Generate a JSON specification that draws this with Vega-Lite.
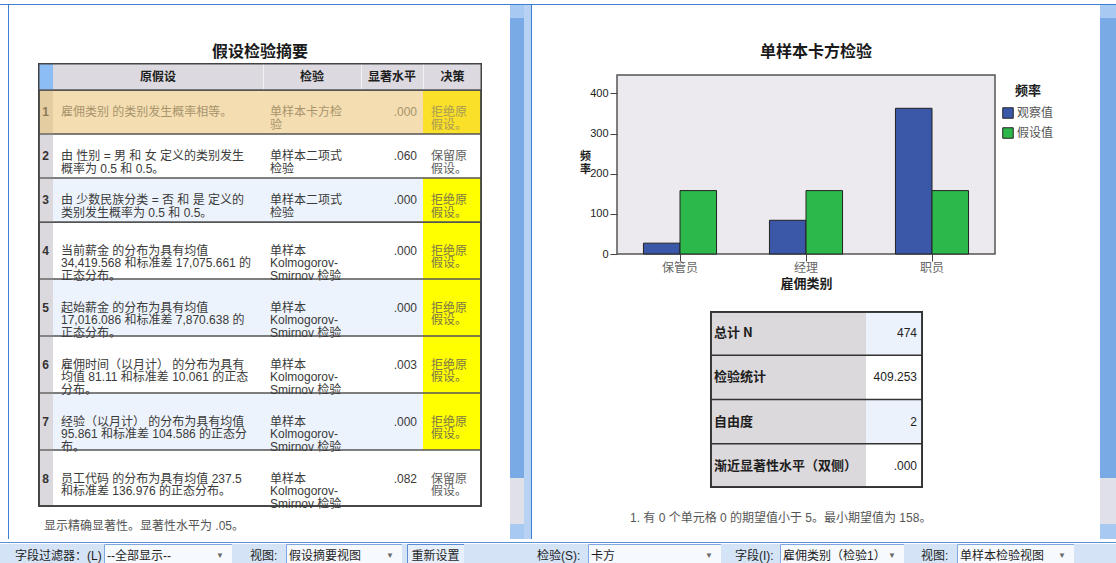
{
"$schema": "https://vega.github.io/schema/vega-lite/v6.json",
"padding": 0,
"background": "#FFFFFF",
"spacing": 0,
"config": {
 "font": "Liberation Sans, Noto Sans CJK SC, DejaVu Sans, sans-serif",
 "view": {"stroke": null},
 "concat": {"spacing": 0},
 "text": {"fontSize": 12, "baseline": "middle", "lineHeight": 12.5}
},
"datasets": {
 "hyp": [
  {"no": 1, "g": "A", "h": ["雇佣类别 的类别发生概率相等。"], "t": ["单样本卡方检", "验"], "s": ".000", "d": ["拒绝原", "假设。"], "rej": true},
  {"no": 2, "g": "A", "h": ["由 性别 = 男 和 女 定义的类别发生", "概率为 0.5 和 0.5。"], "t": ["单样本二项式", "检验"], "s": ".060", "d": ["保留原", "假设。"], "rej": false},
  {"no": 3, "g": "A", "h": ["由 少数民族分类 = 否 和 是 定义的", "类别发生概率为 0.5 和 0.5。"], "t": ["单样本二项式", "检验"], "s": ".000", "d": ["拒绝原", "假设。"], "rej": true},
  {"no": 4, "g": "B", "h": ["当前薪金 的分布为具有均值", "34,419.568 和标准差 17,075.661 的", "正态分布。"], "t": ["单样本", "Kolmogorov-", "Smirnov 检验"], "s": ".000", "d": ["拒绝原", "假设。"], "rej": true},
  {"no": 5, "g": "B", "h": ["起始薪金 的分布为具有均值", "17,016.086 和标准差 7,870.638 的", "正态分布。"], "t": ["单样本", "Kolmogorov-", "Smirnov 检验"], "s": ".000", "d": ["拒绝原", "假设。"], "rej": true},
  {"no": 6, "g": "B", "h": ["雇佣时间（以月计） 的分布为具有", "均值 81.11 和标准差 10.061 的正态", "分布。"], "t": ["单样本", "Kolmogorov-", "Smirnov 检验"], "s": ".003", "d": ["拒绝原", "假设。"], "rej": true},
  {"no": 7, "g": "B", "h": ["经验（以月计） 的分布为具有均值", "95.861 和标准差 104.586 的正态分", "布。"], "t": ["单样本", "Kolmogorov-", "Smirnov 检验"], "s": ".000", "d": ["拒绝原", "假设。"], "rej": true},
  {"no": 8, "g": "B", "h": ["员工代码 的分布为具有均值 237.5", "和标准差 136.976 的正态分布。"], "t": ["单样本", "Kolmogorov-", "Smirnov 检验"], "s": ".082", "d": ["保留原", "假设。"], "rej": false}
 ],
 "freq": [
  {"cat": "保管员", "series": "观察值", "n": 27},
  {"cat": "保管员", "series": "假设值", "n": 158},
  {"cat": "经理", "series": "观察值", "n": 84},
  {"cat": "经理", "series": "假设值", "n": 158},
  {"cat": "职员", "series": "观察值", "n": 363},
  {"cat": "职员", "series": "假设值", "n": 158}
 ],
 "stats": [
  {"k": 1, "label": "总计 N", "v": "474"},
  {"k": 2, "label": "检验统计", "v": "409.253"},
  {"k": 3, "label": "自由度", "v": "2"},
  {"k": 4, "label": "渐近显著性水平（双侧）", "v": ".000"}
 ]
},
"vconcat": [
 {"width": 1116, "height": 4, "mark": "text", "encoding": {"text": {"value": ""}}},
 {"width": 1116, "height": 1, "view": {"fill": "#3D7FD6"}, "mark": "text", "encoding": {"text": {"value": ""}}},
 {"spacing": 0, "hconcat": [
  {"width": 8, "height": 534, "mark": "text", "encoding": {"text": {"value": ""}}},
  {"width": 1, "height": 534, "view": {"fill": "#3D7FD6"}, "mark": "text", "encoding": {"text": {"value": ""}}},
  {"spacing": 0, "hconcat": [
   {"width": 29, "height": 534, "mark": "text", "encoding": {"text": {"value": ""}}},
   {"spacing": 0, "vconcat": [
    {"width": 444, "height": 36, "mark": "text", "encoding": {"text": {"value": ""}}},
    {"width": 444, "height": 22, "data": {"values": [{"t": "假设检验摘要"}]}, "mark": {"type": "text", "fontSize": 16, "fontWeight": "bold", "color": "#1A1A1A", "font": "Noto Sans CJK SC"}, "encoding": {"text": {"field": "t", "type": "nominal"}}},
    {"bounds": "flush", "spacing": 0, "hconcat": [
     {"width": 15, "height": 27, "view": {"fill": "#8DBDF5"}, "data": {"values": [{"t": ""}]}, "layer": [
      {"mark": {"type": "rule", "color": "#444444", "strokeWidth": 3, "clip": true}, "encoding": {"y": {"value": 0}}},
      {"mark": {"type": "rule", "color": "#555555", "strokeWidth": 1.3, "clip": true}, "encoding": {"y": {"value": "height"}}},
      {"mark": {"type": "rule", "color": "#444444", "strokeWidth": 3, "clip": true}, "encoding": {"x": {"value": 0}, "y": {"value": 0}, "y2": {"value": "height"}}}
     ]},
     {"width": 210, "height": 27, "view": {"fill": "#DCDAE0"}, "data": {"values": [{"t": "原假设"}]}, "layer": [
      {"mark": {"type": "text", "fontWeight": "bold", "color": "#1E1E1E", "font": "Noto Sans CJK SC"}, "encoding": {"text": {"field": "t", "type": "nominal"}}},
      {"mark": {"type": "rule", "color": "#444444", "strokeWidth": 3, "clip": true}, "encoding": {"y": {"value": 0}}},
      {"mark": {"type": "rule", "color": "#555555", "strokeWidth": 1.3, "clip": true}, "encoding": {"y": {"value": "height"}}}
     ]},
     {"width": 98, "height": 27, "view": {"fill": "#DCDAE0"}, "data": {"values": [{"t": "检验"}]}, "layer": [
      {"mark": {"type": "text", "fontWeight": "bold", "color": "#1E1E1E", "font": "Noto Sans CJK SC"}, "encoding": {"text": {"field": "t", "type": "nominal"}}},
      {"mark": {"type": "rule", "color": "#F2F2F5", "strokeWidth": 2, "clip": true}, "encoding": {"x": {"value": 0}, "y": {"value": 0}, "y2": {"value": "height"}}},
      {"mark": {"type": "rule", "color": "#444444", "strokeWidth": 3, "clip": true}, "encoding": {"y": {"value": 0}}},
      {"mark": {"type": "rule", "color": "#555555", "strokeWidth": 1.3, "clip": true}, "encoding": {"y": {"value": "height"}}}
     ]},
     {"width": 62, "height": 27, "view": {"fill": "#DCDAE0"}, "data": {"values": [{"t": "显著水平"}]}, "layer": [
      {"mark": {"type": "text", "fontWeight": "bold", "color": "#1E1E1E", "font": "Noto Sans CJK SC"}, "encoding": {"text": {"field": "t", "type": "nominal"}}},
      {"mark": {"type": "rule", "color": "#F2F2F5", "strokeWidth": 2, "clip": true}, "encoding": {"x": {"value": 0}, "y": {"value": 0}, "y2": {"value": "height"}}},
      {"mark": {"type": "rule", "color": "#444444", "strokeWidth": 3, "clip": true}, "encoding": {"y": {"value": 0}}},
      {"mark": {"type": "rule", "color": "#555555", "strokeWidth": 1.3, "clip": true}, "encoding": {"y": {"value": "height"}}}
     ]},
     {"width": 59, "height": 27, "view": {"fill": "#DCDAE0"}, "data": {"values": [{"t": "决策"}]}, "layer": [
      {"mark": {"type": "text", "fontWeight": "bold", "color": "#1E1E1E", "font": "Noto Sans CJK SC"}, "encoding": {"text": {"field": "t", "type": "nominal"}}},
      {"mark": {"type": "rule", "color": "#F2F2F5", "strokeWidth": 2, "clip": true}, "encoding": {"x": {"value": 0}, "y": {"value": 0}, "y2": {"value": "height"}}},
      {"mark": {"type": "rule", "color": "#444444", "strokeWidth": 3, "clip": true}, "encoding": {"y": {"value": 0}}},
      {"mark": {"type": "rule", "color": "#555555", "strokeWidth": 1.3, "clip": true}, "encoding": {"y": {"value": "height"}}},
      {"mark": {"type": "rule", "color": "#444444", "strokeWidth": 3, "clip": true}, "encoding": {"x": {"value": "width"}, "y": {"value": 0}, "y2": {"value": "height"}}}
     ]}
    ]},
    {"bounds": "flush", "spacing": 0, "hconcat": [
     {"width": 15, "height": 132, "data": {"name": "hyp"}, "transform": [{"filter": "datum.g == 'A'"}],
      "encoding": {"y": {"field": "no", "type": "ordinal", "axis": null, "scale": {"paddingInner": 0, "paddingOuter": 0}}},
      "layer": [
       {"mark": "rect", "encoding": {"fill": {"condition": {"test": "datum.no == 1", "value": "#E4CDA0"}, "value": "#DCD9DE"}}},
       {"mark": {"type": "rule", "color": "#555555", "strokeWidth": 1.3, "clip": true}, "encoding": {"y": {"field": "no", "type": "ordinal", "bandPosition": 1, "axis": null}}},
       {"mark": {"type": "rule", "color": "#555555", "strokeWidth": 1.3, "clip": true}, "encoding": {"y": {"value": 0}}},
       {"mark": {"type": "rule", "color": "#444444", "strokeWidth": 3, "clip": true}, "encoding": {"x": {"value": 0}, "y": {"value": 0}, "y2": {"value": "height"}}},
       {"mark": {"type": "text", "fontWeight": "bold"}, "encoding": {"text": {"field": "no", "type": "nominal"}, "color": {"condition": {"test": "datum.no == 1", "value": "#8C7B58"}, "value": "#333333"}}}
      ]},
     {"width": 210, "height": 132, "data": {"name": "hyp"}, "transform": [{"filter": "datum.g == 'A'"}],
      "encoding": {"y": {"field": "no", "type": "ordinal", "axis": null, "scale": {"paddingInner": 0, "paddingOuter": 0}}},
      "layer": [
       {"mark": "rect", "encoding": {"fill": {"condition": [{"test": "datum.no == 1", "value": "#F3DDB1"}, {"test": "datum.no % 2 == 1", "value": "#EDF3FC"}], "value": "#FFFFFF"}}},
       {"mark": {"type": "rule", "color": "#555555", "strokeWidth": 1.3, "clip": true}, "encoding": {"y": {"field": "no", "type": "ordinal", "bandPosition": 1, "axis": null}}},
       {"mark": {"type": "rule", "color": "#555555", "strokeWidth": 1.3, "clip": true}, "encoding": {"y": {"value": 0}}},
       {"mark": {"type": "text", "align": "left", "dx": 8}, "encoding": {"x": {"value": 0}, "text": {"field": "h", "type": "nominal"}, "color": {"condition": {"test": "datum.no == 1", "value": "#A8946C"}, "value": "#3A3A3A"}}}
      ]},
     {"width": 98, "height": 132, "data": {"name": "hyp"}, "transform": [{"filter": "datum.g == 'A'"}],
      "encoding": {"y": {"field": "no", "type": "ordinal", "axis": null, "scale": {"paddingInner": 0, "paddingOuter": 0}}},
      "layer": [
       {"mark": "rect", "encoding": {"fill": {"condition": [{"test": "datum.no == 1", "value": "#F3DDB1"}, {"test": "datum.no % 2 == 1", "value": "#EDF3FC"}], "value": "#FFFFFF"}}},
       {"mark": {"type": "rule", "color": "#555555", "strokeWidth": 1.3, "clip": true}, "encoding": {"y": {"field": "no", "type": "ordinal", "bandPosition": 1, "axis": null}}},
       {"mark": {"type": "rule", "color": "#555555", "strokeWidth": 1.3, "clip": true}, "encoding": {"y": {"value": 0}}},
       {"mark": {"type": "text", "align": "left", "dx": 7}, "encoding": {"x": {"value": 0}, "text": {"field": "t", "type": "nominal"}, "color": {"condition": {"test": "datum.no == 1", "value": "#A8946C"}, "value": "#3A3A3A"}}}
      ]},
     {"width": 62, "height": 132, "data": {"name": "hyp"}, "transform": [{"filter": "datum.g == 'A'"}],
      "encoding": {"y": {"field": "no", "type": "ordinal", "axis": null, "scale": {"paddingInner": 0, "paddingOuter": 0}}},
      "layer": [
       {"mark": "rect", "encoding": {"fill": {"condition": [{"test": "datum.no == 1", "value": "#F3DDB1"}, {"test": "datum.no % 2 == 1", "value": "#EDF3FC"}], "value": "#FFFFFF"}}},
       {"mark": {"type": "rule", "color": "#555555", "strokeWidth": 1.3, "clip": true}, "encoding": {"y": {"field": "no", "type": "ordinal", "bandPosition": 1, "axis": null}}},
       {"mark": {"type": "rule", "color": "#555555", "strokeWidth": 1.3, "clip": true}, "encoding": {"y": {"value": 0}}},
       {"mark": {"type": "text", "align": "right", "dx": -6}, "encoding": {"x": {"value": "width"}, "text": {"field": "s", "type": "nominal"}, "color": {"condition": {"test": "datum.no == 1", "value": "#A8946C"}, "value": "#3A3A3A"}}}
      ]},
     {"width": 59, "height": 132, "data": {"name": "hyp"}, "transform": [{"filter": "datum.g == 'A'"}],
      "encoding": {"y": {"field": "no", "type": "ordinal", "axis": null, "scale": {"paddingInner": 0, "paddingOuter": 0}}},
      "layer": [
       {"mark": "rect", "encoding": {"fill": {"condition": [{"test": "datum.rej && datum.no == 1", "value": "#FAE028"}, {"test": "datum.rej", "value": "#FFFF00"}], "value": "#FFFFFF"}}},
       {"mark": {"type": "rule", "color": "#555555", "strokeWidth": 1.3, "clip": true}, "encoding": {"y": {"field": "no", "type": "ordinal", "bandPosition": 1, "axis": null}}},
       {"mark": {"type": "rule", "color": "#555555", "strokeWidth": 1.3, "clip": true}, "encoding": {"y": {"value": 0}}},
       {"mark": {"type": "rule", "color": "#444444", "strokeWidth": 3, "clip": true}, "encoding": {"x": {"value": "width"}, "y": {"value": 0}, "y2": {"value": "height"}}},
       {"mark": {"type": "text", "align": "left", "dx": 8}, "encoding": {"x": {"value": 0}, "text": {"field": "d", "type": "nominal"}, "color": {"condition": [{"test": "datum.no == 1", "value": "#A89A58"}, {"test": "datum.rej", "value": "#7C7648"}], "value": "#5E5E5E"}}}
      ]}
    ]},
    {"bounds": "flush", "spacing": 0, "hconcat": [
     {"width": 15, "height": 285, "data": {"name": "hyp"}, "transform": [{"filter": "datum.g == 'B'"}],
      "encoding": {"y": {"field": "no", "type": "ordinal", "axis": null, "scale": {"paddingInner": 0, "paddingOuter": 0}}},
      "layer": [
       {"mark": "rect", "encoding": {"fill": {"condition": {"test": "datum.no == 1", "value": "#E4CDA0"}, "value": "#DCD9DE"}}},
       {"mark": {"type": "rule", "color": "#555555", "strokeWidth": 1.3, "clip": true}, "encoding": {"y": {"field": "no", "type": "ordinal", "bandPosition": 1, "axis": null}}},
       {"mark": {"type": "rule", "color": "#555555", "strokeWidth": 1.3, "clip": true}, "encoding": {"y": {"value": 0}}},
       {"mark": {"type": "rule", "color": "#444444", "strokeWidth": 3, "clip": true}, "encoding": {"y": {"value": "height"}}},
       {"mark": {"type": "rule", "color": "#444444", "strokeWidth": 3, "clip": true}, "encoding": {"x": {"value": 0}, "y": {"value": 0}, "y2": {"value": "height"}}},
       {"mark": {"type": "text", "fontWeight": "bold"}, "encoding": {"text": {"field": "no", "type": "nominal"}, "color": {"condition": {"test": "datum.no == 1", "value": "#8C7B58"}, "value": "#333333"}}}
      ]},
     {"width": 210, "height": 285, "data": {"name": "hyp"}, "transform": [{"filter": "datum.g == 'B'"}],
      "encoding": {"y": {"field": "no", "type": "ordinal", "axis": null, "scale": {"paddingInner": 0, "paddingOuter": 0}}},
      "layer": [
       {"mark": "rect", "encoding": {"fill": {"condition": [{"test": "datum.no == 1", "value": "#F3DDB1"}, {"test": "datum.no % 2 == 1", "value": "#EDF3FC"}], "value": "#FFFFFF"}}},
       {"mark": {"type": "rule", "color": "#555555", "strokeWidth": 1.3, "clip": true}, "encoding": {"y": {"field": "no", "type": "ordinal", "bandPosition": 1, "axis": null}}},
       {"mark": {"type": "rule", "color": "#555555", "strokeWidth": 1.3, "clip": true}, "encoding": {"y": {"value": 0}}},
       {"mark": {"type": "rule", "color": "#444444", "strokeWidth": 3, "clip": true}, "encoding": {"y": {"value": "height"}}},
       {"mark": {"type": "text", "align": "left", "dx": 8}, "encoding": {"x": {"value": 0}, "text": {"field": "h", "type": "nominal"}, "color": {"condition": {"test": "datum.no == 1", "value": "#A8946C"}, "value": "#3A3A3A"}}}
      ]},
     {"width": 98, "height": 285, "data": {"name": "hyp"}, "transform": [{"filter": "datum.g == 'B'"}],
      "encoding": {"y": {"field": "no", "type": "ordinal", "axis": null, "scale": {"paddingInner": 0, "paddingOuter": 0}}},
      "layer": [
       {"mark": "rect", "encoding": {"fill": {"condition": [{"test": "datum.no == 1", "value": "#F3DDB1"}, {"test": "datum.no % 2 == 1", "value": "#EDF3FC"}], "value": "#FFFFFF"}}},
       {"mark": {"type": "rule", "color": "#555555", "strokeWidth": 1.3, "clip": true}, "encoding": {"y": {"field": "no", "type": "ordinal", "bandPosition": 1, "axis": null}}},
       {"mark": {"type": "rule", "color": "#555555", "strokeWidth": 1.3, "clip": true}, "encoding": {"y": {"value": 0}}},
       {"mark": {"type": "rule", "color": "#444444", "strokeWidth": 3, "clip": true}, "encoding": {"y": {"value": "height"}}},
       {"mark": {"type": "text", "align": "left", "dx": 7}, "encoding": {"x": {"value": 0}, "text": {"field": "t", "type": "nominal"}, "color": {"condition": {"test": "datum.no == 1", "value": "#A8946C"}, "value": "#3A3A3A"}}}
      ]},
     {"width": 62, "height": 285, "data": {"name": "hyp"}, "transform": [{"filter": "datum.g == 'B'"}],
      "encoding": {"y": {"field": "no", "type": "ordinal", "axis": null, "scale": {"paddingInner": 0, "paddingOuter": 0}}},
      "layer": [
       {"mark": "rect", "encoding": {"fill": {"condition": [{"test": "datum.no == 1", "value": "#F3DDB1"}, {"test": "datum.no % 2 == 1", "value": "#EDF3FC"}], "value": "#FFFFFF"}}},
       {"mark": {"type": "rule", "color": "#555555", "strokeWidth": 1.3, "clip": true}, "encoding": {"y": {"field": "no", "type": "ordinal", "bandPosition": 1, "axis": null}}},
       {"mark": {"type": "rule", "color": "#555555", "strokeWidth": 1.3, "clip": true}, "encoding": {"y": {"value": 0}}},
       {"mark": {"type": "rule", "color": "#444444", "strokeWidth": 3, "clip": true}, "encoding": {"y": {"value": "height"}}},
       {"mark": {"type": "text", "align": "right", "dx": -6}, "encoding": {"x": {"value": "width"}, "text": {"field": "s", "type": "nominal"}, "color": {"condition": {"test": "datum.no == 1", "value": "#A8946C"}, "value": "#3A3A3A"}}}
      ]},
     {"width": 59, "height": 285, "data": {"name": "hyp"}, "transform": [{"filter": "datum.g == 'B'"}],
      "encoding": {"y": {"field": "no", "type": "ordinal", "axis": null, "scale": {"paddingInner": 0, "paddingOuter": 0}}},
      "layer": [
       {"mark": "rect", "encoding": {"fill": {"condition": [{"test": "datum.rej && datum.no == 1", "value": "#FAE028"}, {"test": "datum.rej", "value": "#FFFF00"}], "value": "#FFFFFF"}}},
       {"mark": {"type": "rule", "color": "#555555", "strokeWidth": 1.3, "clip": true}, "encoding": {"y": {"field": "no", "type": "ordinal", "bandPosition": 1, "axis": null}}},
       {"mark": {"type": "rule", "color": "#555555", "strokeWidth": 1.3, "clip": true}, "encoding": {"y": {"value": 0}}},
       {"mark": {"type": "rule", "color": "#444444", "strokeWidth": 3, "clip": true}, "encoding": {"y": {"value": "height"}}},
       {"mark": {"type": "rule", "color": "#444444", "strokeWidth": 3, "clip": true}, "encoding": {"x": {"value": "width"}, "y": {"value": 0}, "y2": {"value": "height"}}},
       {"mark": {"type": "text", "align": "left", "dx": 8}, "encoding": {"x": {"value": 0}, "text": {"field": "d", "type": "nominal"}, "color": {"condition": [{"test": "datum.no == 1", "value": "#A89A58"}, {"test": "datum.rej", "value": "#7C7648"}], "value": "#5E5E5E"}}}
      ]}
    ]},
    {"width": 444, "height": 32, "data": {"values": [{"t": "显示精确显著性。显著性水平为 .05。"}]}, "mark": {"type": "text", "align": "left", "dx": 6, "color": "#555555"}, "encoding": {"x": {"value": 0}, "text": {"field": "t", "type": "nominal"}}}
   ]},
   {"width": 28, "height": 534, "mark": "text", "encoding": {"text": {"value": ""}}}
  ]},
  {"bounds": "flush", "spacing": 0, "vconcat": [
   {"width": 14, "height": 13, "view": {"fill": "#A8C9F1"}, "mark": {"type": "text", "fontSize": 7, "color": "#4B5B7A"}, "encoding": {"text": {"value": "▲"}}},
   {"width": 14, "height": 460, "view": {"fill": "#7AAAE6"}, "mark": "text", "encoding": {"text": {"value": ""}}},
   {"width": 14, "height": 46, "view": {"fill": "#E0E0E8"}, "mark": "text", "encoding": {"text": {"value": ""}}},
   {"width": 14, "height": 15, "view": {"fill": "#A8C9F1"}, "mark": {"type": "text", "fontSize": 7, "color": "#4B5B7A"}, "encoding": {"text": {"value": "▼"}}}
  ]},
  {"width": 7, "height": 534, "view": {"fill": "#B7D2F2"}, "mark": {"type": "text", "fontSize": 11, "color": "#2F62B0"}, "encoding": {"text": {"value": "⋮"}}},
  {"width": 1, "height": 534, "view": {"fill": "#3D7FD6"}, "mark": "text", "encoding": {"text": {"value": ""}}},
  {"spacing": 0, "vconcat": [
   {"width": 568, "height": 36, "mark": "text", "encoding": {"text": {"value": ""}}},
   {"width": 568, "height": 22, "data": {"values": [{"t": "单样本卡方检验"}]}, "mark": {"type": "text", "fontSize": 16, "fontWeight": "bold", "color": "#1A1A1A", "font": "Noto Sans CJK SC"}, "encoding": {"text": {"field": "t", "type": "nominal"}}},
   {"width": 568, "height": 11, "mark": "text", "encoding": {"text": {"value": ""}}},
   {"bounds": "flush", "spacing": 0,
    "resolve": {"scale": {"color": "independent"}, "legend": {"color": "independent"}},
    "hconcat": [
    {"width": 85, "height": 179, "mark": "text", "encoding": {"text": {"value": ""}}},
    {"width": 378, "height": 179, "data": {"name": "freq"},
     "view": {"fill": "#ECE9EF", "stroke": "#555555", "strokeWidth": 1.5},
     "mark": {"type": "bar", "stroke": "#222222", "strokeWidth": 1},
     "encoding": {
      "x": {"field": "cat", "type": "nominal", "sort": ["保管员", "经理", "职员"], "scale": {"paddingInner": 0.42, "paddingOuter": 0.21},
            "axis": {"title": "雇佣类别", "labelAngle": 0, "domain": false, "tickSize": 7, "tickColor": "#444444", "labelFont": "Noto Sans CJK SC", "labelFontSize": 12, "labelColor": "#666666", "labelPadding": 1, "titleFont": "Noto Sans CJK SC", "titleFontSize": 13, "titleFontWeight": "bold", "titleColor": "#1E1E1E", "titlePadding": 4}},
      "xOffset": {"field": "series", "type": "nominal", "sort": ["观察值", "假设值"]},
      "y": {"field": "n", "type": "quantitative", "scale": {"domain": [0, 446], "nice": false},
            "axis": {"values": [0, 100, 200, 300, 400], "grid": false, "domain": false, "tickSize": 7, "tickColor": "#444444", "labelFontSize": 11, "labelColor": "#222222", "labelPadding": 2, "title": ["频", "率"], "titleAngle": 0, "titleAlign": "center", "titleBaseline": "middle", "titleX": -32, "titleY": 81, "titleFont": "Noto Sans CJK SC", "titleFontSize": 11, "titleFontWeight": "bold", "titleColor": "#1E1E1E", "titleLineHeight": 13}},
      "color": {"field": "series", "type": "nominal", "sort": ["观察值", "假设值"], "scale": {"domain": ["观察值", "假设值"], "range": ["#3B57A7", "#2DB84B"]},
            "legend": {"title": "频率", "orient": "right", "offset": -3, "padding": 10, "titleAnchor": "middle", "titleFont": "Noto Sans CJK SC", "titleFontSize": 13, "titleFontWeight": "bold", "titleColor": "#1E1E1E", "titlePadding": 9, "labelFont": "Noto Sans CJK SC", "labelFontSize": 12, "labelColor": "#555555", "labelOffset": 3, "symbolType": "square", "symbolSize": 110, "symbolStrokeColor": "#222222", "symbolStrokeWidth": 1, "symbolOpacity": 1, "rowPadding": 4}}
     }}
   ]},
   {"width": 568, "height": 20, "mark": "text", "encoding": {"text": {"value": ""}}},
   {"bounds": "flush", "spacing": 0, "hconcat": [
    {"width": 178, "height": 177, "mark": "text", "encoding": {"text": {"value": ""}}},
    {"width": 156, "height": 177, "data": {"name": "stats"},
     "encoding": {"y": {"field": "k", "type": "ordinal", "axis": null, "scale": {"paddingInner": 0, "paddingOuter": 0}}},
     "layer": [
      {"mark": {"type": "rect", "color": "#DCD9DC"}},
      {"mark": {"type": "rule", "color": "#333333", "strokeWidth": 1.5, "clip": true}, "encoding": {"y": {"field": "k", "type": "ordinal", "bandPosition": 1, "axis": null}}},
      {"mark": {"type": "rule", "color": "#333333", "strokeWidth": 3, "clip": true}, "encoding": {"y": {"value": 0}}},
      {"mark": {"type": "rule", "color": "#333333", "strokeWidth": 3, "clip": true}, "encoding": {"y": {"value": "height"}}},
      {"mark": {"type": "rule", "color": "#333333", "strokeWidth": 3, "clip": true}, "encoding": {"x": {"value": 0}, "y": {"value": 0}, "y2": {"value": "height"}}},
      {"mark": {"type": "text", "align": "left", "dx": 4, "fontSize": 13, "fontWeight": "bold", "color": "#1E1E1E", "font": "Noto Sans CJK SC"}, "encoding": {"x": {"value": 0}, "text": {"field": "label", "type": "nominal"}}}
     ]},
    {"width": 57, "height": 177, "data": {"name": "stats"},
     "encoding": {"y": {"field": "k", "type": "ordinal", "axis": null, "scale": {"paddingInner": 0, "paddingOuter": 0}}},
     "layer": [
      {"mark": "rect", "encoding": {"fill": {"condition": {"test": "datum.k % 2 == 1", "value": "#EBF2FC"}, "value": "#FFFFFF"}}},
      {"mark": {"type": "rule", "color": "#333333", "strokeWidth": 1.5, "clip": true}, "encoding": {"y": {"field": "k", "type": "ordinal", "bandPosition": 1, "axis": null}}},
      {"mark": {"type": "rule", "color": "#333333", "strokeWidth": 3, "clip": true}, "encoding": {"y": {"value": 0}}},
      {"mark": {"type": "rule", "color": "#333333", "strokeWidth": 3, "clip": true}, "encoding": {"y": {"value": "height"}}},
      {"mark": {"type": "rule", "color": "#333333", "strokeWidth": 3, "clip": true}, "encoding": {"x": {"value": "width"}, "y": {"value": 0}, "y2": {"value": "height"}}},
      {"mark": {"type": "text", "align": "right", "dx": -6, "fontSize": 12, "color": "#1E1E1E"}, "encoding": {"x": {"value": "width"}, "text": {"field": "v", "type": "nominal"}}}
     ]}
   ]},
   {"width": 568, "height": 20, "mark": "text", "encoding": {"text": {"value": ""}}},
   {"bounds": "flush", "spacing": 0, "hconcat": [
    {"width": 98, "height": 20, "mark": "text", "encoding": {"text": {"value": ""}}},
    {"width": 470, "height": 20, "data": {"values": [{"t": "1.  有 0 个单元格 0 的期望值小于 5。最小期望值为 158。"}]}, "mark": {"type": "text", "align": "left", "color": "#555555"}, "encoding": {"x": {"value": 0}, "text": {"field": "t", "type": "nominal"}}}
   ]}
  ]},
  {"bounds": "flush", "spacing": 0, "vconcat": [
   {"width": 16, "height": 13, "view": {"fill": "#A8C9F1"}, "mark": {"type": "text", "fontSize": 7, "color": "#4B5B7A"}, "encoding": {"text": {"value": "▲"}}},
   {"width": 16, "height": 460, "view": {"fill": "#7AAAE6"}, "mark": "text", "encoding": {"text": {"value": ""}}},
   {"width": 16, "height": 46, "view": {"fill": "#E0E0E8"}, "mark": "text", "encoding": {"text": {"value": ""}}},
   {"width": 16, "height": 15, "view": {"fill": "#A8C9F1"}, "mark": {"type": "text", "fontSize": 7, "color": "#4B5B7A"}, "encoding": {"text": {"value": "▼"}}}
  ]}
 ]},
 {"spacing": 0, "vconcat": [
  {"width": 1116, "height": 1, "view": {"fill": "#5E90D6"}, "mark": "text", "encoding": {"text": {"value": ""}}},
  {"bounds": "flush", "spacing": 0, "hconcat": [
   {"width": 14, "height": 23, "view": {"fill": "#D4E3F6"}, "mark": "text", "encoding": {"text": {"value": ""}}},
   {"width": 90, "height": 23, "view": {"fill": "#D4E3F6"}, "data": {"values": [{"t": "字段过滤器：(L)"}]}, "mark": {"type": "text", "align": "left", "dx": 1, "color": "#1E1E1E"}, "encoding": {"x": {"value": 0}, "text": {"field": "t", "type": "nominal"}}},
   {"width": 128, "height": 23, "view": {"fill": "#F6F9FE", "stroke": "#7EA8E0"}, "data": {"values": [{"t": "--全部显示--"}]}, "layer": [
    {"mark": {"type": "text", "align": "left", "dx": 3, "color": "#1E1E1E"}, "encoding": {"x": {"value": 0}, "text": {"field": "t", "type": "nominal"}}},
    {"mark": {"type": "text", "dx": -12, "fontSize": 8, "color": "#6A6A6A"}, "encoding": {"x": {"value": "width"}, "text": {"value": "▼"}}}
   ]},
   {"width": 54, "height": 23, "view": {"fill": "#D4E3F6"}, "data": {"values": [{"t": "视图:"}]}, "mark": {"type": "text", "align": "left", "dx": 18, "color": "#1E1E1E"}, "encoding": {"x": {"value": 0}, "text": {"field": "t", "type": "nominal"}}},
   {"width": 116, "height": 23, "view": {"fill": "#F6F9FE", "stroke": "#7EA8E0"}, "data": {"values": [{"t": "假设摘要视图"}]}, "layer": [
    {"mark": {"type": "text", "align": "left", "dx": 3, "color": "#1E1E1E"}, "encoding": {"x": {"value": 0}, "text": {"field": "t", "type": "nominal"}}},
    {"mark": {"type": "text", "dx": -12, "fontSize": 8, "color": "#6A6A6A"}, "encoding": {"x": {"value": "width"}, "text": {"value": "▼"}}}
   ]},
   {"width": 5, "height": 23, "view": {"fill": "#D4E3F6"}, "mark": "text", "encoding": {"text": {"value": ""}}},
   {"width": 57, "height": 23, "view": {"fill": "#E6EFFB", "stroke": "#5C8ED2"}, "data": {"values": [{"t": "重新设置"}]}, "mark": {"type": "text", "color": "#1E1E1E"}, "encoding": {"text": {"field": "t", "type": "nominal"}}},
   {"width": 67, "height": 23, "view": {"fill": "#D4E3F6"}, "mark": "text", "encoding": {"text": {"value": ""}}},
   {"width": 57, "height": 23, "view": {"fill": "#D4E3F6"}, "data": {"values": [{"t": "检验(S):"}]}, "mark": {"type": "text", "align": "left", "dx": 6, "color": "#1E1E1E"}, "encoding": {"x": {"value": 0}, "text": {"field": "t", "type": "nominal"}}},
   {"width": 133, "height": 23, "view": {"fill": "#F6F9FE", "stroke": "#7EA8E0"}, "data": {"values": [{"t": "卡方"}]}, "layer": [
    {"mark": {"type": "text", "align": "left", "dx": 3, "color": "#1E1E1E"}, "encoding": {"x": {"value": 0}, "text": {"field": "t", "type": "nominal"}}},
    {"mark": {"type": "text", "dx": -12, "fontSize": 8, "color": "#6A6A6A"}, "encoding": {"x": {"value": "width"}, "text": {"value": "▼"}}}
   ]},
   {"width": 59, "height": 23, "view": {"fill": "#D4E3F6"}, "data": {"values": [{"t": "字段(I):"}]}, "mark": {"type": "text", "align": "left", "dx": 14, "color": "#1E1E1E"}, "encoding": {"x": {"value": 0}, "text": {"field": "t", "type": "nominal"}}},
   {"width": 124, "height": 23, "view": {"fill": "#F6F9FE", "stroke": "#7EA8E0"}, "data": {"values": [{"t": "雇佣类别（检验1）"}]}, "layer": [
    {"mark": {"type": "text", "align": "left", "dx": 3, "color": "#1E1E1E"}, "encoding": {"x": {"value": 0}, "text": {"field": "t", "type": "nominal"}}},
    {"mark": {"type": "text", "dx": -12, "fontSize": 8, "color": "#6A6A6A"}, "encoding": {"x": {"value": "width"}, "text": {"value": "▼"}}}
   ]},
   {"width": 53, "height": 23, "view": {"fill": "#D4E3F6"}, "data": {"values": [{"t": "视图:"}]}, "mark": {"type": "text", "align": "left", "dx": 17, "color": "#1E1E1E"}, "encoding": {"x": {"value": 0}, "text": {"field": "t", "type": "nominal"}}},
   {"width": 117, "height": 23, "view": {"fill": "#F6F9FE", "stroke": "#7EA8E0"}, "data": {"values": [{"t": "单样本检验视图"}]}, "layer": [
    {"mark": {"type": "text", "align": "left", "dx": 3, "color": "#1E1E1E"}, "encoding": {"x": {"value": 0}, "text": {"field": "t", "type": "nominal"}}},
    {"mark": {"type": "text", "dx": -12, "fontSize": 8, "color": "#6A6A6A"}, "encoding": {"x": {"value": "width"}, "text": {"value": "▼"}}}
   ]},
   {"width": 42, "height": 23, "view": {"fill": "#D4E3F6"}, "mark": "text", "encoding": {"text": {"value": ""}}}
  ]}
 ]}
]
}
